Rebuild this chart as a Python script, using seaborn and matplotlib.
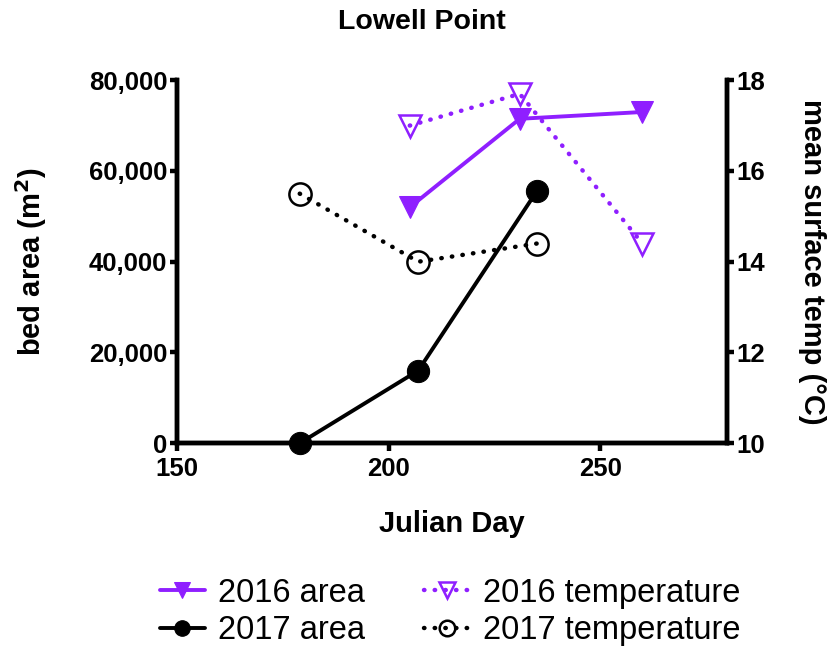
import pandas as pd
import matplotlib.pyplot as plt
import seaborn as sns

# valores
days_2016 = [205, 231, 260]
area_2016 = [52000, 71500, 73000]
temp_2016 = [17.0, 17.7, 14.4]

days_2017 = [179, 207, 235]
area_2017 = [0, 16000, 55500]
temp_2017 = [15.5, 14.0, 14.4]

purple = '#8F1FFF'

sns.set_style('ticks', {'axes.edgecolor': 'black', 'text.color': 'black',
                        'axes.labelcolor': 'black', 'xtick.color': 'black',
                        'ytick.color': 'black'})
plt.rcParams['font.family'] = ['Liberation Sans', 'DejaVu Sans']

d16 = pd.DataFrame({'day': days_2016, 'area': area_2016, 'temp': temp_2016})
d17 = pd.DataFrame({'day': days_2017, 'area': area_2017, 'temp': temp_2017})

fig = plt.figure(figsize=(8.31, 6.47), dpi=100)
ax = fig.add_axes([0.213, 0.315, 0.662, 0.561])
ax2 = ax.twinx()

dots = (0, (0.1, 2.3))
sns.lineplot(data=d16, x='day', y='area', ax=ax, color=purple, marker='v',
             markersize=16, markeredgecolor=purple, linewidth=2.8, label='2016 area')
sns.lineplot(data=d17, x='day', y='area', ax=ax, color='black', marker='o',
             markersize=16, markeredgecolor='black', linewidth=2.8, label='2017 area')
sns.lineplot(data=d16, x='day', y='temp', ax=ax2, color=purple, marker='v',
             markersize=16, fillstyle='none', markeredgecolor=purple,
             markeredgewidth=1.8, linewidth=3.2, dashes=False, linestyle=dots,
             dash_capstyle='round', label='2016 temperature')
sns.lineplot(data=d17, x='day', y='temp', ax=ax2, color='black', marker='o',
             markersize=16, fillstyle='none', markeredgecolor='black',
             markeredgewidth=1.8, linewidth=3.2, dashes=False, linestyle=dots,
             dash_capstyle='round', label='2017 temperature')

ax.set_xlim(150, 280)
ax.set_ylim(0, 80000)
ax2.set_ylim(10, 18)
ax.set_xticks([150, 200, 250])
ax.set_yticks([0, 20000, 40000, 60000, 80000])
ax.set_yticklabels(['0', '20,000', '40,000', '60,000', '80,000'])
ax2.set_yticks([10, 12, 14, 16, 18])

for a in (ax, ax2):
    for s in a.spines.values():
        s.set_linewidth(3.2)
    a.spines['top'].set_visible(False)
    a.tick_params(width=3.2, length=5, pad=2, labelsize=18.5, direction='out')
    for lab in a.get_xticklabels() + a.get_yticklabels():
        lab.set_fontweight('bold')
    for ln in a.lines:
        ln.set_clip_on(False)
ax.tick_params(axis='x', length=6, pad=4)

ax.set_xlabel('Julian Day', fontsize=21, fontweight='bold', labelpad=21)
ax.set_ylabel('bed area (m$^\\mathbf{2}$)', fontsize=21, fontweight='bold', labelpad=29)
ax2.set_ylabel('mean surface temp (°C)', fontsize=21, fontweight='bold',
               rotation=270, va='bottom', labelpad=23)
fig.text(0.508, 0.966, 'Lowell Point', fontsize=20.5, fontweight='bold',
         ha='center', va='center')

h1, l1 = ax.get_legend_handles_labels()
h2, l2 = ax2.get_legend_handles_labels()
ax.get_legend().remove()
ax2.get_legend().remove()
fig.legend(h1 + h2, l1 + l2, ncol=2, loc='center', bbox_to_anchor=(0.5415, 0.054),
           frameon=False, fontsize=23.5, handlelength=1.4, columnspacing=1.8,
           labelspacing=0.2, handletextpad=0.4, markerscale=0.7)

fig.savefig('out.png', dpi=100)
